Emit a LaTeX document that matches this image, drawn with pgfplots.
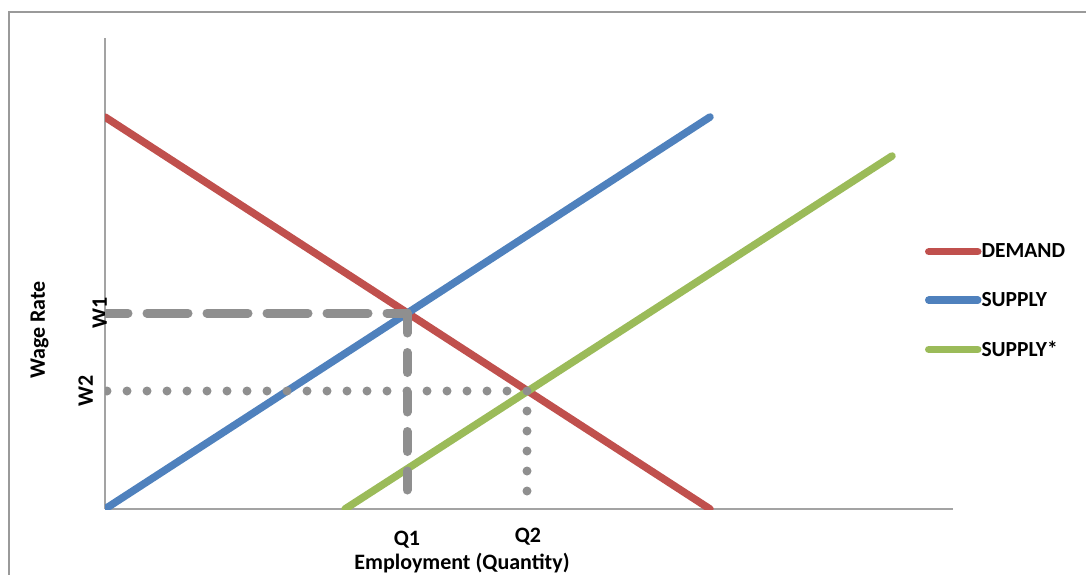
\documentclass[border=0pt]{standalone}
\usepackage{pgfplots}
\pgfplotsset{compat=1.18}
\usepackage{fontspec}
\setmainfont{Carlito}

\definecolor{demandred}{HTML}{C0504D}
\definecolor{supplyblue}{HTML}{4F81BD}
\definecolor{supplygreen}{HTML}{9BBB59}
\definecolor{guidegray}{HTML}{8F8F8F}
\definecolor{axisgray}{HTML}{A3A3A3}
\definecolor{framegray}{HTML}{9A9A9A}

\begin{document}
\begin{tikzpicture}
\useasboundingbox (0,0) rectangle (1086pt,574pt);
% chart frame (only its top and left sides are in view)
\draw[framegray, line width=1.3pt] (9pt,-10pt) -- (9pt,562pt) -- (1100pt,562pt);

\begin{axis}[
    at={(105pt,65pt)}, anchor=south west,
    scale only axis, width=848pt, height=471pt,
    xmin=0, xmax=848, ymin=0, ymax=471,
    axis lines=left,
    axis line style={-, draw=axisgray, line width=1.6pt},
    major tick length=0pt,
    xtick={302}, xticklabels={\textbf{Q1}},
    extra x ticks={423}, extra x tick labels={\textbf{Q2}},
    xticklabel style={inner sep=0pt, anchor=north, yshift=-22pt,
        font=\fontsize{22}{26}\selectfont\bfseries},
    extra x tick style={xticklabel style={yshift=3pt}},
    ytick={196}, yticklabels={\textbf{W1}},
    extra y ticks={118}, extra y tick labels={\textbf{W2}},
    yticklabel style={inner sep=0pt, xshift=2pt, rotate=90, anchor=south,
        font=\fontsize{22}{26}\selectfont\bfseries},
    extra y tick style={yticklabel style={yshift=14pt}},
    legend cell align=left,
    legend style={draw=none, fill=none, inner sep=0pt, outer sep=0pt,
        at={(axis cs:820,265)}, anchor=north west,
        row sep=33pt, column sep=0pt, nodes={inner sep=0pt},
        font=\fontsize{21.5}{25}\selectfont\bfseries},
    legend image code/.code={\draw[#1, line cap=round] (0pt,0pt) -- (49pt,0pt);},
    every axis plot/.append style={line width=7.5pt, line cap=round},
]

% demand
\addplot[demandred] coordinates {(0,392) (605,0)};
\addlegendentry{DEMAND}
% supply
\addplot[supplyblue] coordinates {(0,0) (605,392)};
\addlegendentry{SUPPLY}
% shifted supply
\addplot[supplygreen] coordinates {(240,0) (787,353)};
\addlegendentry{SUPPLY*}

% guides to W1 / Q1 (dashed)
\addplot[forget plot, guidegray, line width=9pt, line cap=round,
    dash pattern=on 41pt off 19pt, dash phase=21pt]
    coordinates {(302,196) (-20,196)};
\addplot[forget plot, guidegray, line width=9pt, line cap=round,
    dash pattern=on 20pt off 19.5pt]
    coordinates {(302,196) (302,19)};
% guides to W2 / Q2 (dotted)
\addplot[forget plot, guidegray, line width=9pt, line cap=round,
    dash pattern=on 0pt off 20pt]
    coordinates {(2,118) (422,118) (422,17.5)};
\end{axis}

\node[rotate=90, font=\fontsize{22}{26}\selectfont\bfseries] at (39.5pt,244pt) {Wage Rate};
\node[anchor=base, font=\fontsize{22}{26}\selectfont\bfseries] at (462pt,5pt) {Employment (Quantity)};
\end{tikzpicture}
\end{document}
